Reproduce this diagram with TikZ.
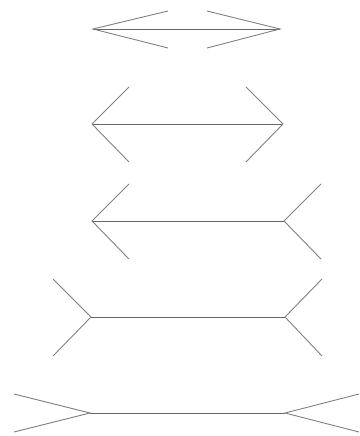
\documentclass[tikz,border=0pt]{standalone}
\usepackage{tikz}
\usetikzlibrary{calc}

\begin{document}
\begin{tikzpicture}[x=1pt, y=-1pt,
    shaft/.style={black!60, line width=0.9pt},
    fin/.style={black!50, line width=0.9pt, line join=miter}]
    \useasboundingbox (0,0) rectangle (359,436);

    % Row 1: long shallow fins pointing outwards
    \draw[shaft] (93,29) -- (280,29);
    \draw[fin] (168,11) -- (93,29) -- (168,48);
    \draw[fin] (207,11) -- (280,29) -- (207,48);

    % Row 2: short fins pointing outwards
    \draw[shaft] (92,124) -- (283,124);
    \draw[fin] (129,87) -- (92,124) -- (129,162);
    \draw[fin] (246,87) -- (283,124) -- (246,162);

    % Row 3: arrowhead on the left, tail on the right
    \draw[shaft] (92,221) -- (284,221);
    \draw[fin] (129,184) -- (92,221) -- (129,259);
    \draw[fin] (321,184) -- (284,221) -- (321,259);

    % Row 4: short fins pointing inwards
    \draw[shaft] (91,317) -- (285,317);
    \draw[fin] (53,279) -- (91,317) -- (53,356);
    \draw[fin] (322,279) -- (285,317) -- (322,356);

    % Row 5: long shallow fins pointing inwards
    \draw[shaft] (90,413) -- (285,413);
    \draw[fin] (14,394) -- (90,413) -- (14,432);
    \draw[fin] (359,394) -- (285,413) -- (359,432);
\end{tikzpicture}
\end{document}
